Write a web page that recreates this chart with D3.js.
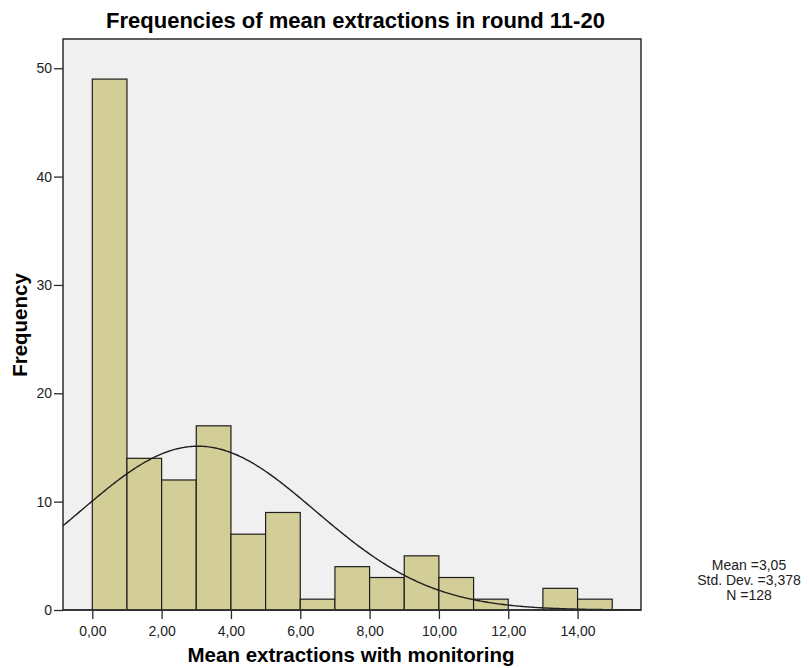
<!DOCTYPE html>
<html>
<head>
<meta charset="utf-8">
<script src="https://cdn.jsdelivr.net/npm/d3@7"></script>
<style>
  body { margin: 0; background: #fff; }
  text { font-family: "Liberation Sans", Arial, sans-serif; }
</style>
</head>
<body>
<svg id="chart" width="809" height="668"></svg>
<script>
// bins of width 1, starting at 0
var binStarts = [0, 1, 2, 3, 4, 5, 6, 7, 8, 9, 10, 11, 12, 13, 14];
var counts = [49, 14, 12, 17, 7, 9, 1, 4, 3, 5, 3, 1, 0, 2, 1];
var xTicks = [0, 2, 4, 6, 8, 10, 12, 14];
var yTicks = [0, 10, 20, 30, 40, 50];
var stats = { mean: 3.05, sd: 3.378, n: 128 };
var statLines = ["Mean =3,05", "Std. Dev. =3,378", "N =128"];

var svg = d3.select("#chart");

// plot frame (don't use "top" - it's a window global)
var pLeft = 63, pRight = 641, pTop = 39, pBottom = 610;

var x = d3.scaleLinear().domain([-0.845, 15.83]).range([pLeft, pRight]);
var y = d3.scaleLinear().domain([0, 52.7]).range([pBottom, pTop]);

// plot background
svg.append("rect")
  .attr("x", pLeft).attr("y", pTop)
  .attr("width", pRight - pLeft).attr("height", pBottom - pTop)
  .attr("fill", "#f0f0f0")
  .attr("stroke", "#2b2b2b")
  .attr("stroke-width", 1.5);

// bars
var bins = binStarts.map(function(d, i) { return { x0: d, x1: d + 1, n: counts[i] }; })
  .filter(function(d) { return d.n > 0; });

svg.append("g").selectAll("rect")
  .data(bins)
  .enter().append("rect")
  .attr("x", function(d) { return x(d.x0); })
  .attr("y", function(d) { return y(d.n); })
  .attr("width", function(d) { return x(d.x1) - x(d.x0); })
  .attr("height", function(d) { return y(0) - y(d.n); })
  .attr("fill", "#d3ce98")
  .attr("stroke", "#1e1e1e")
  .attr("stroke-width", 1.2);

// normal curve from the reported stats
var binW = 1;
var curvePts = d3.range(x.domain()[0], x.domain()[1] + 0.01, 0.05);
var line = d3.line()
  .x(function(d) { return x(d); })
  .y(function(d) {
    var z = (d - stats.mean) / stats.sd;
    return y(stats.n * binW / (stats.sd * Math.sqrt(2 * Math.PI)) * Math.exp(-0.5 * z * z));
  });

svg.append("path")
  .datum(curvePts)
  .attr("d", line)
  .attr("fill", "none")
  .attr("stroke", "#1e1e1e")
  .attr("stroke-width", 1.4);

// axes
var xAxis = d3.axisBottom(x)
  .tickValues(xTicks)
  .tickSize(9)
  .tickFormat(function(d) { return d3.format(".2f")(d).replace(".", ","); });
var yAxis = d3.axisLeft(y)
  .tickValues(yTicks)
  .tickSize(9);

var gx = svg.append("g")
  .attr("transform", "translate(0," + pBottom + ")")
  .call(xAxis);
var gy = svg.append("g")
  .attr("transform", "translate(" + pLeft + ",0)")
  .call(yAxis);

[gx, gy].forEach(function(g) {
  g.select(".domain").remove();
  g.selectAll("line").attr("stroke", "#2b2b2b").attr("stroke-width", 1.3);
  g.selectAll("text").attr("font-size", 14).attr("fill", "#222")
    .attr("font-family", "Liberation Sans, Arial, sans-serif");
});
gy.selectAll("text").attr("x", -11);
gx.selectAll("text").attr("y", 16);

// x-axis baseline
svg.append("line")
  .attr("x1", pLeft).attr("x2", pRight)
  .attr("y1", pBottom).attr("y2", pBottom)
  .attr("stroke", "#2b2b2b").attr("stroke-width", 1.5);

// title and labels
svg.append("text")
  .attr("x", 355.5).attr("y", 28)
  .attr("text-anchor", "middle")
  .attr("font-size", 22).attr("font-weight", "bold")
  .text("Frequencies of mean extractions in round 11-20");

svg.append("text")
  .attr("x", 351).attr("y", 662)
  .attr("text-anchor", "middle")
  .attr("font-size", 20.5).attr("font-weight", "bold")
  .text("Mean extractions with monitoring");

svg.append("text")
  .attr("transform", "translate(27,325) rotate(-90)")
  .attr("text-anchor", "middle")
  .attr("font-size", 20.5).attr("font-weight", "bold")
  .text("Frequency");

// stats box
svg.append("text")
  .attr("text-anchor", "middle")
  .attr("font-size", 14)
  .attr("fill", "#222")
  .selectAll("tspan")
  .data(statLines)
  .enter().append("tspan")
  .attr("x", 749)
  .attr("y", function(d, i) { return 570 + i * 15; })
  .text(function(d) { return d; });
</script>
</body>
</html>
